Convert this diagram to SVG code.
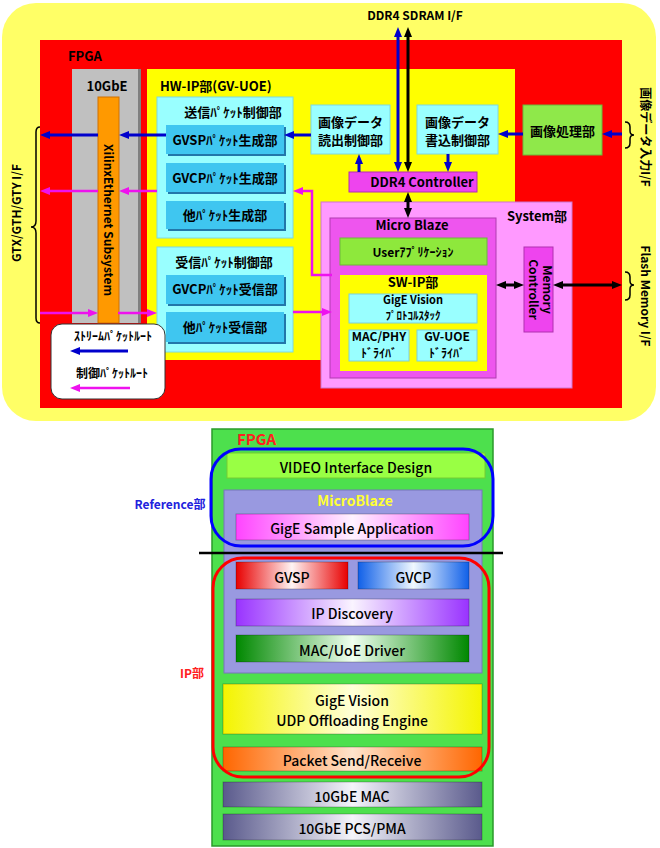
<svg xmlns="http://www.w3.org/2000/svg" width="660" height="848" viewBox="0 0 660 848">
<style>
text{font-family:"Noto Sans CJK JP","Noto Sans",sans-serif;fill:#000}
.b{font-weight:bold}
.t13{font-size:13px;font-weight:bold}
.t12{font-size:12px;font-weight:bold}
.t11{font-size:11px;font-weight:bold}
.m{text-anchor:middle}
.cy{fill:#99FFFF;stroke:#7fd8e0;stroke-width:1}
.bl{fill:#3FC6F0}
.sh{fill:#2277AA}
.mg{fill:#EE44EE;stroke:#b030b0;stroke-width:1}
.ab{stroke:#0000CC;stroke-width:3;fill:none;marker-end:url(#hb)}
.am{stroke:#EE11EE;stroke-width:2.5;fill:none;marker-end:url(#hm)}
.ak{stroke:#000;stroke-width:3;fill:none;marker-end:url(#hk);marker-start:url(#hk)}
.br{stroke:#000;stroke-width:1.5;fill:none}
.bt{font-size:14px;font-weight:500}
.bar{stroke:#00000040;stroke-width:1}
</style>
<defs>
<marker id="hb" viewBox="0 0 10 10" refX="4" refY="5" markerWidth="10" markerHeight="10" markerUnits="userSpaceOnUse" orient="auto-start-reverse"><path d="M0,1 L10,5 L0,9 z" fill="#0000CC"/></marker>
<marker id="hm" viewBox="0 0 10 10" refX="4" refY="5" markerWidth="10" markerHeight="10" markerUnits="userSpaceOnUse" orient="auto-start-reverse"><path d="M0,1 L10,5 L0,9 z" fill="#EE11EE"/></marker>
<marker id="hk" viewBox="0 0 10 10" refX="4" refY="5" markerWidth="10" markerHeight="10" markerUnits="userSpaceOnUse" orient="auto-start-reverse"><path d="M0,1 L10,5 L0,9 z" fill="#000"/></marker>
<linearGradient id="gRed"><stop offset="0" stop-color="#E80000"/><stop offset="0.5" stop-color="#FFF4F4"/><stop offset="1" stop-color="#E80000"/></linearGradient>
<linearGradient id="gBlue"><stop offset="0" stop-color="#1060E8"/><stop offset="0.5" stop-color="#F0F8FF"/><stop offset="1" stop-color="#1060E8"/></linearGradient>
<linearGradient id="gPur"><stop offset="0" stop-color="#9933FF"/><stop offset="0.5" stop-color="#FAF4FF"/><stop offset="1" stop-color="#9933FF"/></linearGradient>
<linearGradient id="gGrn"><stop offset="0" stop-color="#008800"/><stop offset="0.5" stop-color="#F0FFF0"/><stop offset="1" stop-color="#008800"/></linearGradient>
<linearGradient id="gPnk"><stop offset="0" stop-color="#FF44FF"/><stop offset="0.5" stop-color="#FFF2FF"/><stop offset="1" stop-color="#FF44FF"/></linearGradient>
<linearGradient id="gYel"><stop offset="0" stop-color="#F4F400"/><stop offset="0.5" stop-color="#FFFFD8"/><stop offset="1" stop-color="#F4F400"/></linearGradient>
<linearGradient id="gOrg"><stop offset="0" stop-color="#FF6600"/><stop offset="0.5" stop-color="#FFE4CC"/><stop offset="1" stop-color="#FF6600"/></linearGradient>
<linearGradient id="gGbe"><stop offset="0" stop-color="#5A5A8C"/><stop offset="0.5" stop-color="#F4F4FA"/><stop offset="1" stop-color="#5A5A8C"/></linearGradient>
</defs>

<!-- Top diagram -->
<g id="outer"><rect x="2" y="3" width="654" height="418" rx="34" fill="#FFFF66"/></g>
<g id="fpga"><rect x="40" y="40" width="582" height="368" fill="#FF0000"/><text x="68" y="61" class="t13">FPGA</text></g>
<g id="gbe10">
<rect x="75" y="69" width="66" height="254" fill="#808080"/>
<rect x="72" y="69" width="66" height="254" fill="#C0C0C0"/>
<text x="107" y="91" class="t13 m">10GbE</text>
</g>
<g id="xilinx">
<rect x="98" y="97" width="21" height="226" fill="#FF9900" stroke="#d07000" stroke-width="1"/>
<text transform="translate(108,220) rotate(90)" y="4.5" class="t12 m">XilinxEthernet Subsystem</text>
</g>
<g id="hwip">
<rect x="147" y="69" width="368" height="291" fill="#FFFF00"/>
<text x="160" y="91" class="t13">HW-IP部(GV-UOE)</text>
</g>
<g id="send">
<rect x="157" y="97" width="136" height="141" class="cy"/>
<text x="233" y="117" class="t13 m">送信ﾊﾟｹｯﾄ制御部</text>
</g>
<g id="gvspgen"><rect x="168" y="127" width="118" height="29" class="sh"/><rect x="166" y="125" width="118" height="29" class="bl"/><text x="225" y="144.5" class="t13 m">GVSPﾊﾟｹｯﾄ生成部</text></g>
<g id="gvcpgen"><rect x="168" y="165" width="118" height="29" class="sh"/><rect x="166" y="163" width="118" height="29" class="bl"/><text x="225" y="182.5" class="t13 m">GVCPﾊﾟｹｯﾄ生成部</text></g>
<g id="othergen"><rect x="168" y="203" width="118" height="28" class="sh"/><rect x="166" y="201" width="118" height="28" class="bl"/><text x="225" y="219.5" class="t13 m">他ﾊﾟｹｯﾄ生成部</text></g>
<g id="recv">
<rect x="157" y="247" width="136" height="105" class="cy"/>
<text x="224" y="266.5" class="t13 m">受信ﾊﾟｹｯﾄ制御部</text>
</g>
<g id="gvcprecv"><rect x="168" y="277" width="118" height="29" class="sh"/><rect x="166" y="275" width="118" height="29" class="bl"/><text x="225" y="294" class="t13 m">GVCPﾊﾟｹｯﾄ受信部</text></g>
<g id="otherrecv"><rect x="168" y="314" width="118" height="30" class="sh"/><rect x="166" y="312" width="118" height="30" class="bl"/><text x="225" y="331.5" class="t13 m">他ﾊﾟｹｯﾄ受信部</text></g>
<g id="readctl"><rect x="311" y="105" width="79" height="49" class="cy"/><text x="350.5" y="127" class="t13 m">画像データ</text><text x="350.5" y="145" class="t13 m">読出制御部</text></g>
<g id="writectl"><rect x="417" y="105" width="81" height="49" class="cy"/><text x="457.5" y="127" class="t13 m">画像データ</text><text x="457.5" y="145" class="t13 m">書込制御部</text></g>
<g id="ddr4ctl"><rect x="349" y="172" width="128" height="20" class="mg"/><text x="422" y="186.5" class="t13 m">DDR4 Controller</text></g>
<g id="imgproc"><rect x="523" y="105" width="79" height="50" fill="#8FE84A" stroke="#6cb83a" stroke-width="1"/><text x="562.5" y="136" class="t13 m">画像処理部</text></g>
<g id="system"><rect x="321" y="202" width="251" height="186" fill="#FF99FF" stroke="#cc77cc" stroke-width="1"/><text x="537" y="220.5" class="t13 m">System部</text></g>
<g id="microblaze"><rect x="330" y="218" width="166" height="160" fill="#EE55EE" stroke="#b03cb0" stroke-width="1"/><text x="412" y="229.5" class="t13 m">Micro Blaze</text></g>
<g id="userapp"><rect x="340" y="238" width="147" height="27" fill="#8EE83C" stroke="#6cb83a" stroke-width="1"/><text x="413" y="257" class="t12 m">Userｱﾌﾟﾘｹｰｼｮﾝ</text></g>
<g id="swip"><rect x="340" y="275" width="147" height="96" fill="#FFFF00"/><text x="413" y="287" class="t13 m">SW-IP部</text></g>
<g id="protostack"><rect x="349" y="294" width="128" height="29" fill="#99FFFF" stroke="#7fd0d8" stroke-width="1"/><text x="413" y="303.5" class="t11 m">GigE Vision</text><text x="413" y="319.5" class="t11 m">ﾌﾟﾛﾄｺﾙｽﾀｯｸ</text></g>
<g id="macphy"><rect x="349" y="330" width="60" height="31" fill="#99FFFF" stroke="#7fd0d8" stroke-width="1"/><text x="379" y="341" class="t12 m">MAC/PHY</text><text x="379" y="357.5" class="t12 m">ﾄﾞﾗｲﾊﾞ</text></g>
<g id="gvuoedrv"><rect x="417" y="330" width="60" height="31" fill="#99FFFF" stroke="#7fd0d8" stroke-width="1"/><text x="447" y="341" class="t12 m">GV-UOE</text><text x="447" y="357.5" class="t12 m">ﾄﾞﾗｲﾊﾞ</text></g>
<g id="memctl"><rect x="524" y="247" width="29" height="85" fill="#EE44EE" stroke="#b030b0" stroke-width="1"/>
<text transform="translate(538.5,289.5) rotate(90)" y="-4.5" class="t12 m">Memory</text>
<text transform="translate(538.5,289.5) rotate(90)" y="10" class="t12 m">Controller</text></g>
<g id="legend"><rect x="51" y="324" width="114" height="75" rx="11" fill="#FFFFFF" stroke="#333" stroke-width="1"/>
<text x="113" y="341" class="t12 m">ｽﾄﾘｰﾑﾊﾟｹｯﾄﾙｰﾄ</text>
<text x="112" y="378" class="t12 m">制御ﾊﾟｹｯﾄﾙｰﾄ</text></g>
<g id="labels">
<text x="415" y="19.5" class="t12 m">DDR4 SDRAM I/F</text>
<text transform="translate(645,137) rotate(90)" y="4.5" class="t12 m">画像データ入力I/F</text>
<text transform="translate(645,296) rotate(90)" y="4.5" class="t12 m">Flash Memory I/F</text>
<text transform="translate(16,213) rotate(-90)" y="4.5" class="t12 m">GTX/GTH/GTY I/F</text>
</g>
<g id="connectors">
<line x1="98" y1="135" x2="46" y2="135" class="ab"/>
<line x1="166" y1="135" x2="125" y2="135" class="ab"/>
<line x1="311" y1="135" x2="290" y2="135" class="ab"/>
<line x1="523" y1="134" x2="504" y2="134" class="ab"/>
<line x1="622" y1="134" x2="608" y2="134" class="ab"/>
<line x1="359" y1="172" x2="359" y2="160" class="ab"/>
<line x1="448" y1="154" x2="448" y2="166" class="ab"/>
<line x1="398" y1="33" x2="398" y2="166" class="ab" style="marker-start:url(#hb)"/>
<line x1="408" y1="33" x2="408" y2="166" class="ak"/>
<line x1="408" y1="198" x2="408" y2="212" class="ak"/>
<line x1="502" y1="285" x2="518" y2="285" class="ak"/>
<line x1="559" y1="285" x2="616" y2="285" class="ak"/>
<line x1="157" y1="191" x2="125" y2="191" class="am"/>
<line x1="98" y1="191" x2="46" y2="191" class="am"/>
<line x1="40" y1="313" x2="92" y2="313" class="am"/>
<line x1="118" y1="313" x2="151" y2="313" class="am"/>
<path d="M332,275 L312,275 L312,191 L299,191" class="am"/>
<line x1="293" y1="312" x2="326" y2="312" class="am"/>
<line x1="128" y1="351" x2="76" y2="351" class="ab"/>
<line x1="130" y1="388" x2="76" y2="388" class="am"/>
<path d="M625,122 Q630,122 630,127 L630,131 Q630,135 634,135 Q630,135 630,139 L630,143 Q630,148 625,148" class="br"/>
<path d="M625,272 Q630,272 630,277 L630,281 Q630,285 634,285 Q630,285 630,289 L630,295 Q630,300 625,300" class="br"/>
<path d="M40,127 Q36,127 36,132 L36,221 Q36,227 31,227 Q36,227 36,233 L36,318 Q36,323 40,323" class="br"/>
</g>

<!-- Bottom diagram -->
<g id="fpga2"><rect x="212" y="429" width="281" height="417" fill="#4DE04D" stroke="#2a9a2a" stroke-width="1.5"/>
<text x="237" y="445" font-size="15" class="b" style="fill:#FF2020">FPGA</text></g>
<g id="video"><rect x="227" y="453" width="258" height="25" fill="#99FF44" stroke="#77cc33" stroke-width="1"/><text x="356" y="473" class="bt m">VIDEO Interface Design</text></g>
<g id="mb2"><rect x="224" y="490" width="258" height="183" fill="#9999E0" stroke="#7777b8" stroke-width="1"/><text x="355" y="506" class="bt m" style="fill:#FFFF33;font-weight:bold">MicroBlaze</text></g>
<g id="sampleapp"><rect x="236" y="514" width="233" height="26" fill="url(#gPnk)" class="bar"/><text x="352" y="534" class="bt m">GigE Sample Application</text></g>
<g id="gvsp"><rect x="236" y="562" width="112" height="27" fill="url(#gRed)" class="bar"/><text x="292" y="583" class="bt m">GVSP</text></g>
<g id="gvcp"><rect x="358" y="562" width="111" height="27" fill="url(#gBlue)" class="bar"/><text x="413.5" y="583" class="bt m">GVCP</text></g>
<g id="ipdisc"><rect x="236" y="599" width="233" height="27" fill="url(#gPur)" class="bar"/><text x="352" y="619" class="bt m">IP Discovery</text></g>
<g id="macuoe"><rect x="236" y="635" width="233" height="27" fill="url(#gGrn)" class="bar"/><text x="352" y="656" class="bt m">MAC/UoE Driver</text></g>
<g id="uoe"><rect x="223" y="684" width="259" height="50" fill="url(#gYel)" class="bar"/><text x="352" y="706" class="bt m">GigE Vision</text><text x="352" y="726" class="bt m">UDP Offloading Engine</text></g>
<g id="pktsr"><rect x="223" y="747" width="259" height="24" fill="url(#gOrg)" class="bar"/><text x="352" y="766" class="bt m">Packet Send/Receive</text></g>
<g id="gbemac"><rect x="223" y="782" width="259" height="25" fill="url(#gGbe)" class="bar"/><text x="352" y="802" class="bt m">10GbE MAC</text></g>
<g id="gbepcs"><rect x="223" y="814" width="259" height="26" fill="url(#gGbe)" class="bar"/><text x="352" y="834" class="bt m">10GbE PCS/PMA</text></g>
<g id="refgroup"><rect x="211" y="449" width="282" height="97" rx="30" fill="none" stroke="#0000FF" stroke-width="3"/><text x="170" y="509" font-size="12" class="b m" style="fill:#2222DD">Reference部</text></g>
<g id="ipgroup"><rect x="213" y="558" width="276" height="219" rx="30" fill="none" stroke="#FF0000" stroke-width="3"/><text x="192" y="678" font-size="12" class="b m" style="fill:#FF2020">IP部</text></g>
<g id="divider"><line x1="199" y1="553" x2="503" y2="553" stroke="#000" stroke-width="2.5"/></g>
</svg>
